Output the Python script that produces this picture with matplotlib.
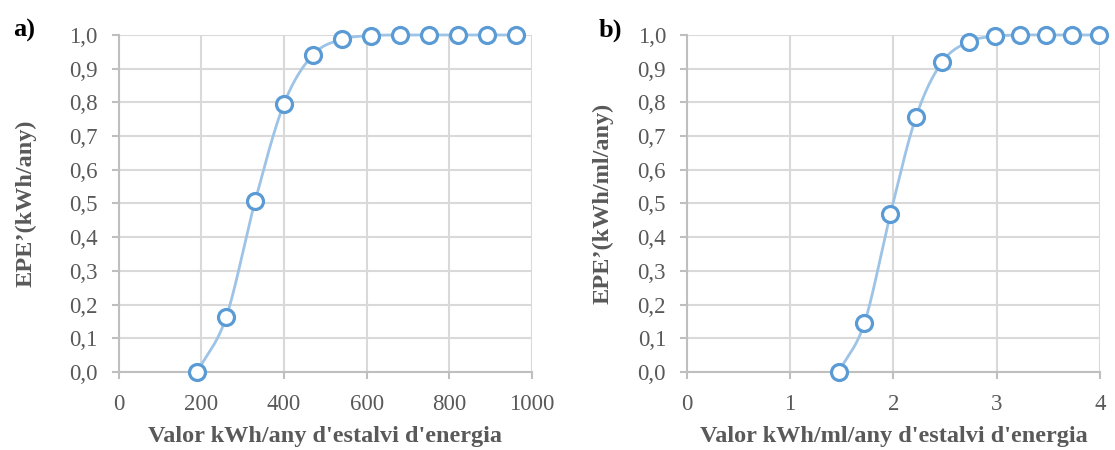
import numpy as np
import matplotlib.pyplot as plt

# panel a
x_a = [190, 260, 330, 400, 470, 540, 610, 680, 750, 820, 890, 960]
y_a = [0.0, 0.162, 0.506, 0.796, 0.941, 0.987, 0.998, 1.0, 1.0, 1.0, 1.0, 1.0]
# panel b
x_b = [1.47, 1.72, 1.97, 2.22, 2.47, 2.73, 2.98, 3.23, 3.48, 3.73, 3.99]
y_b = [0.0, 0.146, 0.468, 0.758, 0.919, 0.980, 0.996, 1.0, 1.0, 1.0, 1.0]

yticks = [0, 0.1, 0.2, 0.3, 0.4, 0.5, 0.6, 0.7, 0.8, 0.9, 1.0]
ytick_labels = ['0,0', '0,1', '0,2', '0,3', '0,4', '0,5', '0,6', '0,7', '0,8', '0,9', '1,0']

LINE = '#9dc3e6'
MARK = '#5b9bd5'
GRID = '#d9d9d9'
AXIS = '#bfbfbf'
TXT = '#595959'
SERIF = ['Liberation Serif', 'DejaVu Serif']


def smooth(x, y, n=30):
    # catmull-rom, like the excel smoothed line
    x = np.asarray(x, float)
    y = np.asarray(y, float)
    px = np.concatenate([[2 * x[0] - x[1]], x, [2 * x[-1] - x[-2]]])
    py = np.concatenate([[2 * y[0] - y[1]], y, [2 * y[-1] - y[-2]]])
    xs, ys = [], []
    t = np.linspace(0, 1, n)
    for i in range(1, len(px) - 2):
        for p, out in ((px, xs), (py, ys)):
            p0, p1, p2, p3 = p[i - 1], p[i], p[i + 1], p[i + 2]
            out.extend(0.5 * ((2 * p1) + (-p0 + p2) * t
                              + (2 * p0 - 5 * p1 + 4 * p2 - p3) * t ** 2
                              + (-p0 + 3 * p1 - 3 * p2 + p3) * t ** 3))
    return xs, ys


def panel(ax, x, y, xlim, xticks, xlabel, ylabel, ylab_x):
    sx, sy = smooth(x, y)
    ax.plot(sx, sy, color=LINE, lw=2, zorder=3, clip_on=False)
    ax.plot(x, y, 'o', ms=11.5, mfc='white', mec=MARK, mew=2.3, zorder=4, clip_on=False)
    ax.set_xlim(xlim)
    ax.set_ylim(0, 1.0)
    ax.set_xticks(xticks)
    ax.set_yticks(yticks)
    ax.set_yticklabels(ytick_labels)
    ax.grid(True, color=GRID, lw=1.5)
    ax.set_axisbelow(True)
    for s in ['top', 'right']:
        ax.spines[s].set_visible(False)
    for s in ['left', 'bottom']:
        ax.spines[s].set_color(AXIS)
        ax.spines[s].set_linewidth(1.5)
    ax.tick_params(colors=AXIS, width=1.5, length=5, labelcolor=TXT, labelsize=16.5)
    ax.tick_params(axis='x', pad=11)
    ax.tick_params(axis='y', pad=10)
    for lab in ax.get_xticklabels() + ax.get_yticklabels():
        lab.set_family(SERIF)
    ax.set_xlabel(xlabel, family=SERIF, fontsize=17.5, fontweight='bold', color=TXT, labelpad=8)
    ax.set_ylabel(ylabel, family=SERIF, fontsize=17.5, fontweight='bold', color=TXT)
    ax.yaxis.set_label_coords(ylab_x, 0.5)


fig = plt.figure(figsize=(11.15, 4.5), dpi=100)
ax1 = fig.add_axes([0.1063, 0.1733, 0.371, 0.749])
ax2 = fig.add_axes([0.616, 0.1733, 0.3705, 0.749])

panel(ax1, x_a, y_a, (0, 1000), [0, 200, 400, 600, 800, 1000],
      "Valor kWh/any d'estalvi d'energia", "EPE’(kWh/any)", -0.199)
panel(ax2, x_b, y_b, (0, 4), [0, 1, 2, 3, 4],
      "Valor kWh/ml/any d'estalvi d'energia", "EPE’(kWh/ml/any)", -0.177)

fig.text(0.012, 0.933, 'a)', family=SERIF, fontsize=19, fontweight='bold', va='center')
fig.text(0.537, 0.933, 'b)', family=SERIF, fontsize=19, fontweight='bold', va='center')

fig.savefig('out.png', dpi=100)
